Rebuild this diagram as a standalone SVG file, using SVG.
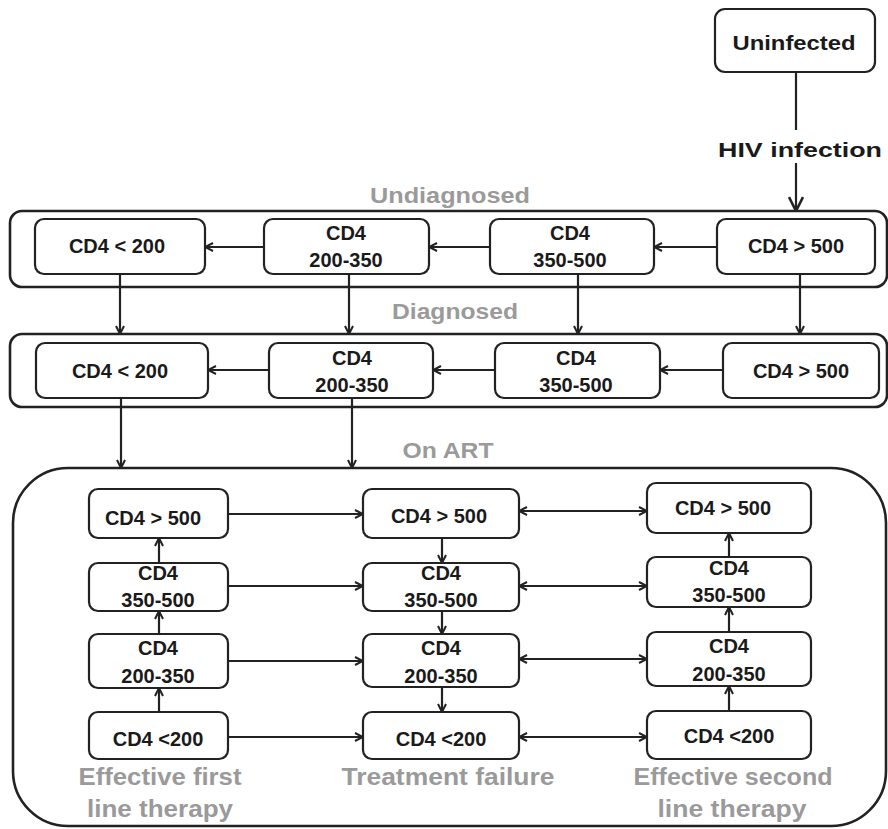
<svg xmlns="http://www.w3.org/2000/svg" width="888" height="829" viewBox="0 0 888 829">
<style>
.box{fill:#fff;stroke:#222;stroke-width:2.2}
.outer{fill:none;stroke:#222;stroke-width:2.6}
.t{font-family:"Liberation Sans",Arial,sans-serif;font-weight:bold;font-size:20px;fill:#1a1a1a;text-anchor:middle}
.g{font-family:"Liberation Sans",Arial,sans-serif;font-weight:bold;font-size:22px;fill:#9a9a9a;text-anchor:middle}
.gl{font-family:"Liberation Sans",Arial,sans-serif;font-weight:bold;font-size:23px;fill:#9a9a9a;text-anchor:middle}
.c{fill:none;stroke:#222;stroke-width:2.2}
.a{marker-end:url(#ah)}
.b{marker-end:url(#ah);marker-start:url(#ah)}
</style>
<defs>
<marker id="ah" viewBox="0 0 10 10" refX="9" refY="5" markerWidth="10" markerHeight="10" markerUnits="userSpaceOnUse" orient="auto-start-reverse">
<path d="M1,1 L9,5 L1,9" fill="none" stroke="#222" stroke-width="2"/>
</marker>
<marker id="ahb" viewBox="0 0 16 16" refX="15" refY="8" markerWidth="16" markerHeight="16" markerUnits="userSpaceOnUse" orient="auto">
<path d="M1,1 L15,8 L1,15" fill="none" stroke="#222" stroke-width="2.6"/>
</marker>
</defs>
<rect width="888" height="829" fill="#fff"/>

<g id="uninfected">
<rect class="box" x="715" y="9" width="160" height="63" rx="10"/>
<text class="t" x="794" y="50" font-size="24" textLength="123" lengthAdjust="spacingAndGlyphs">Uninfected</text>
</g>

<g id="undiagnosed-group">
<rect class="outer" x="10" y="211" width="877" height="76" rx="12"/>
<text class="g" x="450" y="203" textLength="160" lengthAdjust="spacingAndGlyphs">Undiagnosed</text>
</g>
<g id="diagnosed-group">
<rect class="outer" x="10" y="334" width="877" height="73" rx="12"/>
<text class="g" x="455" y="319" textLength="126" lengthAdjust="spacingAndGlyphs">Diagnosed</text>
</g>
<g id="onart-group">
<rect class="outer" x="13" y="468" width="873" height="358" rx="55"/>
<text class="g" x="448" y="458" textLength="91" lengthAdjust="spacingAndGlyphs">On ART</text>
</g>

<g id="connectors">
<line class="c" x1="796" y1="72" x2="796" y2="130" stroke-width="2.6"/>
<line class="c" x1="796" y1="163" x2="796" y2="211" stroke-width="2.6" marker-end="url(#ahb)"/>
<text class="t" x="800" y="157" font-size="26" textLength="164" lengthAdjust="spacingAndGlyphs">HIV infection</text>
<line class="c a" x1="717" y1="247" x2="654" y2="247"/>
<line class="c a" x1="490" y1="247" x2="429" y2="247"/>
<line class="c a" x1="264" y1="247" x2="205" y2="247"/>
<line class="c a" x1="120" y1="274" x2="120" y2="334"/>
<line class="c a" x1="349" y1="274" x2="349" y2="334"/>
<line class="c a" x1="578" y1="274" x2="578" y2="334"/>
<line class="c a" x1="800" y1="274" x2="800" y2="334"/>
<line class="c a" x1="723" y1="370" x2="660" y2="370"/>
<line class="c a" x1="495" y1="370" x2="433" y2="370"/>
<line class="c a" x1="269" y1="370" x2="208" y2="370"/>
<line class="c a" x1="121" y1="398" x2="121" y2="468"/>
<line class="c a" x1="352" y1="398" x2="352" y2="468"/>
<line class="c a" x1="228" y1="514" x2="363" y2="514"/>
<line class="c a" x1="228" y1="586" x2="363" y2="586"/>
<line class="c a" x1="228" y1="661" x2="363" y2="661"/>
<line class="c a" x1="228" y1="737" x2="363" y2="737"/>
<line class="c b" x1="519" y1="511" x2="647" y2="511"/>
<line class="c b" x1="519" y1="586" x2="647" y2="586"/>
<line class="c b" x1="519" y1="659" x2="647" y2="659"/>
<line class="c b" x1="519" y1="737" x2="647" y2="737"/>
<line class="c a" x1="159" y1="563" x2="159" y2="538"/>
<line class="c a" x1="159" y1="634" x2="159" y2="611"/>
<line class="c a" x1="159" y1="712" x2="159" y2="688"/>
<line class="c a" x1="442" y1="538" x2="442" y2="563"/>
<line class="c a" x1="442" y1="611" x2="442" y2="634"/>
<line class="c a" x1="442" y1="687" x2="442" y2="712"/>
<line class="c a" x1="729" y1="557" x2="729" y2="533"/>
<line class="c a" x1="729" y1="632" x2="729" y2="607"/>
<line class="c a" x1="729" y1="711" x2="729" y2="686"/>
</g>

<g id="u-lt200"><rect class="box" x="35" y="219" width="170" height="55" rx="9"/><text class="t" x="117" y="253">CD4 &lt; 200</text></g>
<g id="u-200-350"><rect class="box" x="264" y="219" width="165" height="55" rx="9"/><text class="t" x="346" y="240">CD4</text><text class="t" x="346" y="267">200-350</text></g>
<g id="u-350-500"><rect class="box" x="490" y="219" width="164" height="55" rx="9"/><text class="t" x="570" y="240">CD4</text><text class="t" x="570" y="267">350-500</text></g>
<g id="u-gt500"><rect class="box" x="717" y="219" width="158" height="55" rx="9"/><text class="t" x="796" y="253">CD4 &gt; 500</text></g>

<g id="d-lt200"><rect class="box" x="36" y="343" width="172" height="55" rx="9"/><text class="t" x="120" y="378">CD4 &lt; 200</text></g>
<g id="d-200-350"><rect class="box" x="269" y="343" width="164" height="55" rx="9"/><text class="t" x="352" y="365">CD4</text><text class="t" x="352" y="392">200-350</text></g>
<g id="d-350-500"><rect class="box" x="495" y="343" width="165" height="55" rx="9"/><text class="t" x="576" y="365">CD4</text><text class="t" x="576" y="392">350-500</text></g>
<g id="d-gt500"><rect class="box" x="723" y="343" width="156" height="55" rx="9"/><text class="t" x="801" y="378">CD4 &gt; 500</text></g>

<g id="f-gt500"><rect class="box" x="89" y="489" width="139" height="49" rx="9"/><text class="t" x="153" y="525">CD4 &gt; 500</text></g>
<g id="f-350-500"><rect class="box" x="89" y="563" width="139" height="48" rx="9"/><text class="t" x="158" y="580">CD4</text><text class="t" x="158" y="607">350-500</text></g>
<g id="f-200-350"><rect class="box" x="89" y="634" width="139" height="54" rx="9"/><text class="t" x="158" y="655">CD4</text><text class="t" x="158" y="683">200-350</text></g>
<g id="f-lt200"><rect class="box" x="89" y="712" width="139" height="47" rx="9"/><text class="t" x="158" y="746">CD4 &lt;200</text></g>

<g id="t-gt500"><rect class="box" x="363" y="489" width="156" height="49" rx="9"/><text class="t" x="439" y="523">CD4 &gt; 500</text></g>
<g id="t-350-500"><rect class="box" x="363" y="563" width="156" height="48" rx="9"/><text class="t" x="441" y="580">CD4</text><text class="t" x="441" y="607">350-500</text></g>
<g id="t-200-350"><rect class="box" x="363" y="634" width="156" height="53" rx="9"/><text class="t" x="441" y="655">CD4</text><text class="t" x="441" y="683">200-350</text></g>
<g id="t-lt200"><rect class="box" x="363" y="712" width="156" height="47" rx="9"/><text class="t" x="441" y="746">CD4 &lt;200</text></g>

<g id="s-gt500"><rect class="box" x="647" y="483" width="164" height="50" rx="9"/><text class="t" x="723" y="515">CD4 &gt; 500</text></g>
<g id="s-350-500"><rect class="box" x="647" y="557" width="164" height="50" rx="9"/><text class="t" x="729" y="575">CD4</text><text class="t" x="729" y="602">350-500</text></g>
<g id="s-200-350"><rect class="box" x="647" y="632" width="164" height="54" rx="9"/><text class="t" x="729" y="653">CD4</text><text class="t" x="729" y="681">200-350</text></g>
<g id="s-lt200"><rect class="box" x="647" y="711" width="164" height="48" rx="9"/><text class="t" x="729" y="743">CD4 &lt;200</text></g>

<g id="labels">
<text class="gl" x="160" y="785" textLength="163" lengthAdjust="spacingAndGlyphs">Effective first</text>
<text class="gl" x="160" y="817" textLength="146" lengthAdjust="spacingAndGlyphs">line therapy</text>
<text class="gl" x="448" y="785" textLength="213" lengthAdjust="spacingAndGlyphs">Treatment failure</text>
<text class="gl" x="733" y="785" textLength="199" lengthAdjust="spacingAndGlyphs">Effective second</text>
<text class="gl" x="732" y="817" textLength="149" lengthAdjust="spacingAndGlyphs">line therapy</text>
</g>
</svg>
